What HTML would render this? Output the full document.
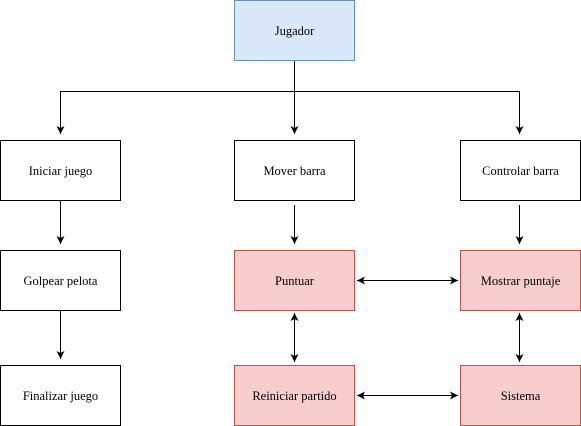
<!DOCTYPE html>
<html><head><style>body{margin:0;background:#fff}svg{display:block}</style></head><body>
<svg width="581" height="426" viewBox="0 0 581 426" xmlns="http://www.w3.org/2000/svg">
<defs>
<marker id="a" markerWidth="10" markerHeight="10" refX="8" refY="4" orient="auto-start-reverse" markerUnits="userSpaceOnUse"><path d="M0,0 L8,4 L0,8 L2,4 Z" fill="#000"/></marker>
</defs>
<g fill="none" stroke="#000" stroke-width="1">
<path d="M294.5,60 V134" marker-end="url(#a)"/>
<path d="M60.5,134 V91.5 H519.5 V134" marker-end="url(#a)"/>
<path d="M60.5,134 V91.5" marker-start="url(#a)"/>
<path d="M60.5,200 V244" marker-end="url(#a)"/>
<path d="M294.5,205 V244" marker-end="url(#a)"/>
<path d="M519.5,205 V244" marker-end="url(#a)"/>
<path d="M60.5,310 V359" marker-end="url(#a)"/>
<path d="M357,280.5 H458" marker-start="url(#a)" marker-end="url(#a)"/>
<path d="M357,395.5 H458" marker-start="url(#a)" marker-end="url(#a)"/>
<path d="M294.5,313 V362" marker-start="url(#a)" marker-end="url(#a)"/>
<path d="M519.5,313 V362" marker-start="url(#a)" marker-end="url(#a)"/>
</g>
<rect x="234.5" y="0.5" width="120" height="60" fill="#dae8fc" stroke="#6c8ebf"/>
<g fill="#fff" stroke="#000">
<rect x="0.5" y="140.5" width="120" height="60"/>
<rect x="234.5" y="140.5" width="120" height="60"/>
<rect x="460.5" y="140.5" width="120" height="60"/>
<rect x="0.5" y="250.5" width="120" height="60"/>
<rect x="0.5" y="365.5" width="120" height="60"/>
</g>
<g fill="#f8cecc" stroke="#b85450">
<rect x="234.5" y="250.5" width="120" height="60"/>
<rect x="460.5" y="250.5" width="120" height="60"/>
<rect x="234.5" y="365.5" width="120" height="60"/>
<rect x="460.5" y="365.5" width="120" height="60"/>
</g>
<g text-anchor="middle" font-family="'Liberation Serif', 'DejaVu Serif', serif" font-size="12.5" fill="#000">
<text x="294.5" y="35">Jugador</text>
<text x="60.5" y="175">Iniciar juego</text>
<text x="294.5" y="175">Mover barra</text>
<text x="520.5" y="175">Controlar barra</text>
<text x="60.5" y="285">Golpear pelota</text>
<text x="294.5" y="285">Puntuar</text>
<text x="520.5" y="285">Mostrar puntaje</text>
<text x="60.5" y="400">Finalizar juego</text>
<text x="294.5" y="400">Reiniciar partido</text>
<text x="520.5" y="400">Sistema</text>
</g>
</svg>
</body></html>
